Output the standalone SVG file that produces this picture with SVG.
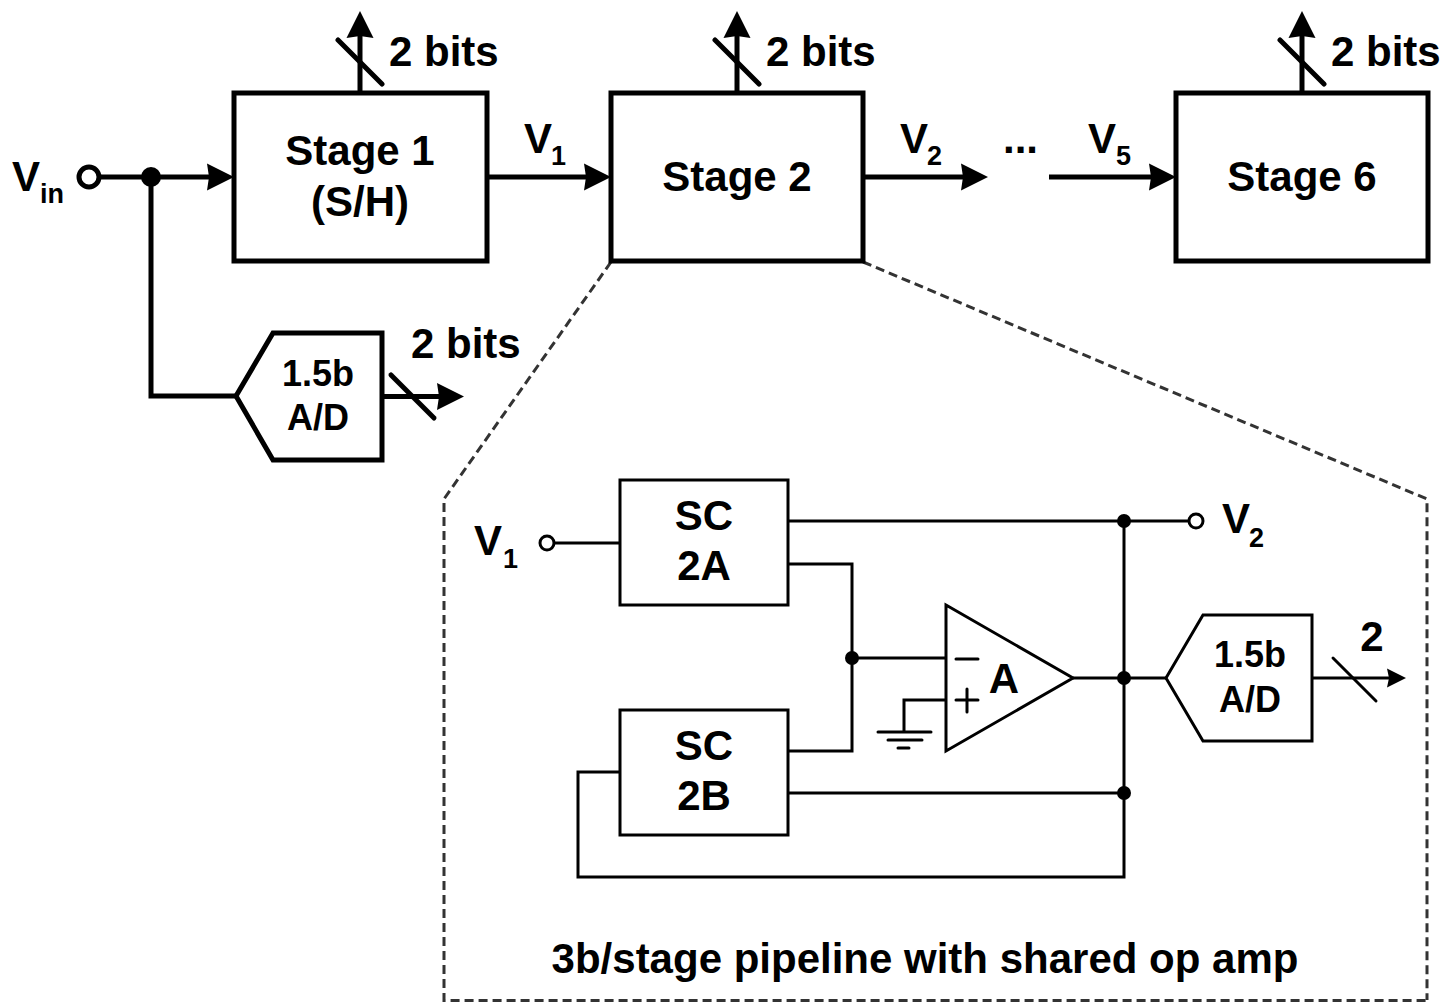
<svg xmlns="http://www.w3.org/2000/svg" width="1444" height="1002" viewBox="0 0 1444 1002">
<defs>
<style>
text{font-family:"Liberation Sans",Arial,sans-serif;font-weight:bold;fill:#000}
.t{font-size:42px}
.m{text-anchor:middle}
.s{font-size:27px}
.n{font-size:36px}
.b{fill:#fff;stroke:#000;stroke-width:5}
.c{fill:none;stroke:#000;stroke-width:5}
.tk{fill:none;stroke:#000;stroke-width:5;stroke-linecap:round}
.d{fill:none;stroke:#000;stroke-width:3}
.r{fill:none;stroke:#000;stroke-width:3;stroke-linecap:round}
.dash{fill:none;stroke:#333;stroke-width:3;stroke-dasharray:9 5}
.dot{fill:#000}
.th{fill:#fff;stroke:#000;stroke-width:3}
</style>
<marker id="big" markerUnits="userSpaceOnUse" markerWidth="28" markerHeight="28" refX="2" refY="14" orient="auto"><path d="M0 0.5L27 14L0 27.5L2 14Z" fill="#000"/></marker>
<marker id="sm" markerUnits="userSpaceOnUse" markerWidth="20" markerHeight="20" refX="2" refY="10" orient="auto"><path d="M0 0.5L19 10L0 19.5L2 10Z" fill="#000"/></marker>
</defs>
<rect width="1444" height="1002" fill="#fff"/>
<g id="connectors">
<path class="c" d="M99 177H209" marker-end="url(#big)"/>
<path class="c" d="M151 177V396H236"/>
<path class="c" d="M487 177H586" marker-end="url(#big)"/>
<path class="c" d="M863 177H963" marker-end="url(#big)"/>
<path class="c" d="M1049 177H1151" marker-end="url(#big)"/>
<path class="c" d="M360 93V36" marker-end="url(#big)"/>
<path class="c" d="M737 93V36" marker-end="url(#big)"/>
<path class="c" d="M1302 93V36" marker-end="url(#big)"/>
<path class="tk" d="M338 40L382 84M715 40L759 84M1280 40L1324 84"/>
<path class="c" d="M382 396.500H439" marker-end="url(#big)"/>
<path class="tk" d="M391 375L434 418"/>
<path class="dash" d="M611 262L444 499V1000.500H1427"/>
<path class="dash" d="M863 262L1427 499V1000"/>
<path class="d" d="M555 543H620M788 521H1188M788 564H852V751H788M852 658H946M1073 678H1166M1124 521V877H578V772H622M788 793H1124M946 700H904V733" />
<path class="d" d="M1313 678H1389" marker-end="url(#sm)"/>
<path class="r" d="M1333 658L1376 701"/>
<path class="r" d="M878 732H931M888 740H922M898 748H909"/>
</g>
<g id="vin"><circle cx="89" cy="177" r="10" fill="#fff" stroke="#000" stroke-width="5"/><circle class="dot" cx="151" cy="177" r="10"/><text class="t" x="12" y="191">V</text><text class="s" x="40" y="203">in</text></g>
<g id="stage1"><rect class="b" x="234" y="93" width="253" height="168"/><text class="t m" x="360" y="165">Stage 1</text><text class="t m" x="360" y="216">(S/H)</text><text class="t" x="389" y="66">2 bits</text></g>
<g id="stage2"><rect class="b" x="611" y="93" width="252" height="168"/><text class="t m" x="737" y="191">Stage 2</text><text class="t" x="766" y="66">2 bits</text></g>
<g id="stage6"><rect class="b" x="1176" y="93" width="252" height="168"/><text class="t m" x="1302" y="191">Stage 6</text><text class="t" x="1331" y="66">2 bits</text></g>
<g id="labels"><text class="t" x="524" y="153">V</text><text class="s" x="551" y="165">1</text><text class="t" x="900" y="153">V</text><text class="s" x="927" y="165">2</text><text class="t" x="1003" y="153">...</text><text class="t" x="1088" y="153">V</text><text class="s" x="1116" y="165">5</text></g>
<g id="adc1"><path class="b" d="M236 396L273 333H382V460H273Z"/><text class="n m" x="318" y="386">1.5b</text><text class="n m" x="318" y="430">A/D</text><text class="t" x="411" y="358">2 bits</text></g>
<g id="sc2a"><rect class="th" x="620" y="480" width="168" height="125"/><text class="t m" x="704" y="530">SC</text><text class="t m" x="704" y="580">2A</text></g>
<g id="sc2b"><rect class="th" x="620" y="710" width="168" height="125"/><text class="t m" x="704" y="760">SC</text><text class="t m" x="704" y="810">2B</text></g>
<g id="amp"><path class="th" d="M946 605L1073 678L946 751Z"/><path class="r" d="M956 659H978M956 700H978M967 689V712"/><text class="t m" x="1004" y="693">A</text></g>
<g id="adc2"><path class="th" d="M1166 678L1203 615H1312V741H1203Z"/><text class="n m" x="1250" y="667">1.5b</text><text class="n m" x="1250" y="712">A/D</text><text class="t m" x="1372" y="651">2</text></g>
<g id="detail"><circle class="th" cx="547" cy="543" r="7"/><circle class="th" cx="1196" cy="521" r="7"/><circle class="dot" cx="852" cy="658" r="7"/><circle class="dot" cx="1124" cy="521" r="7"/><circle class="dot" cx="1124" cy="678" r="7"/><circle class="dot" cx="1124" cy="793" r="7"/><text class="t" x="474" y="555">V</text><text class="s" x="503" y="568">1</text><text class="t" x="1222" y="533">V</text><text class="s" x="1249" y="547">2</text><text class="t m" x="925" y="973">3b/stage pipeline with shared op amp</text></g>
</svg>
